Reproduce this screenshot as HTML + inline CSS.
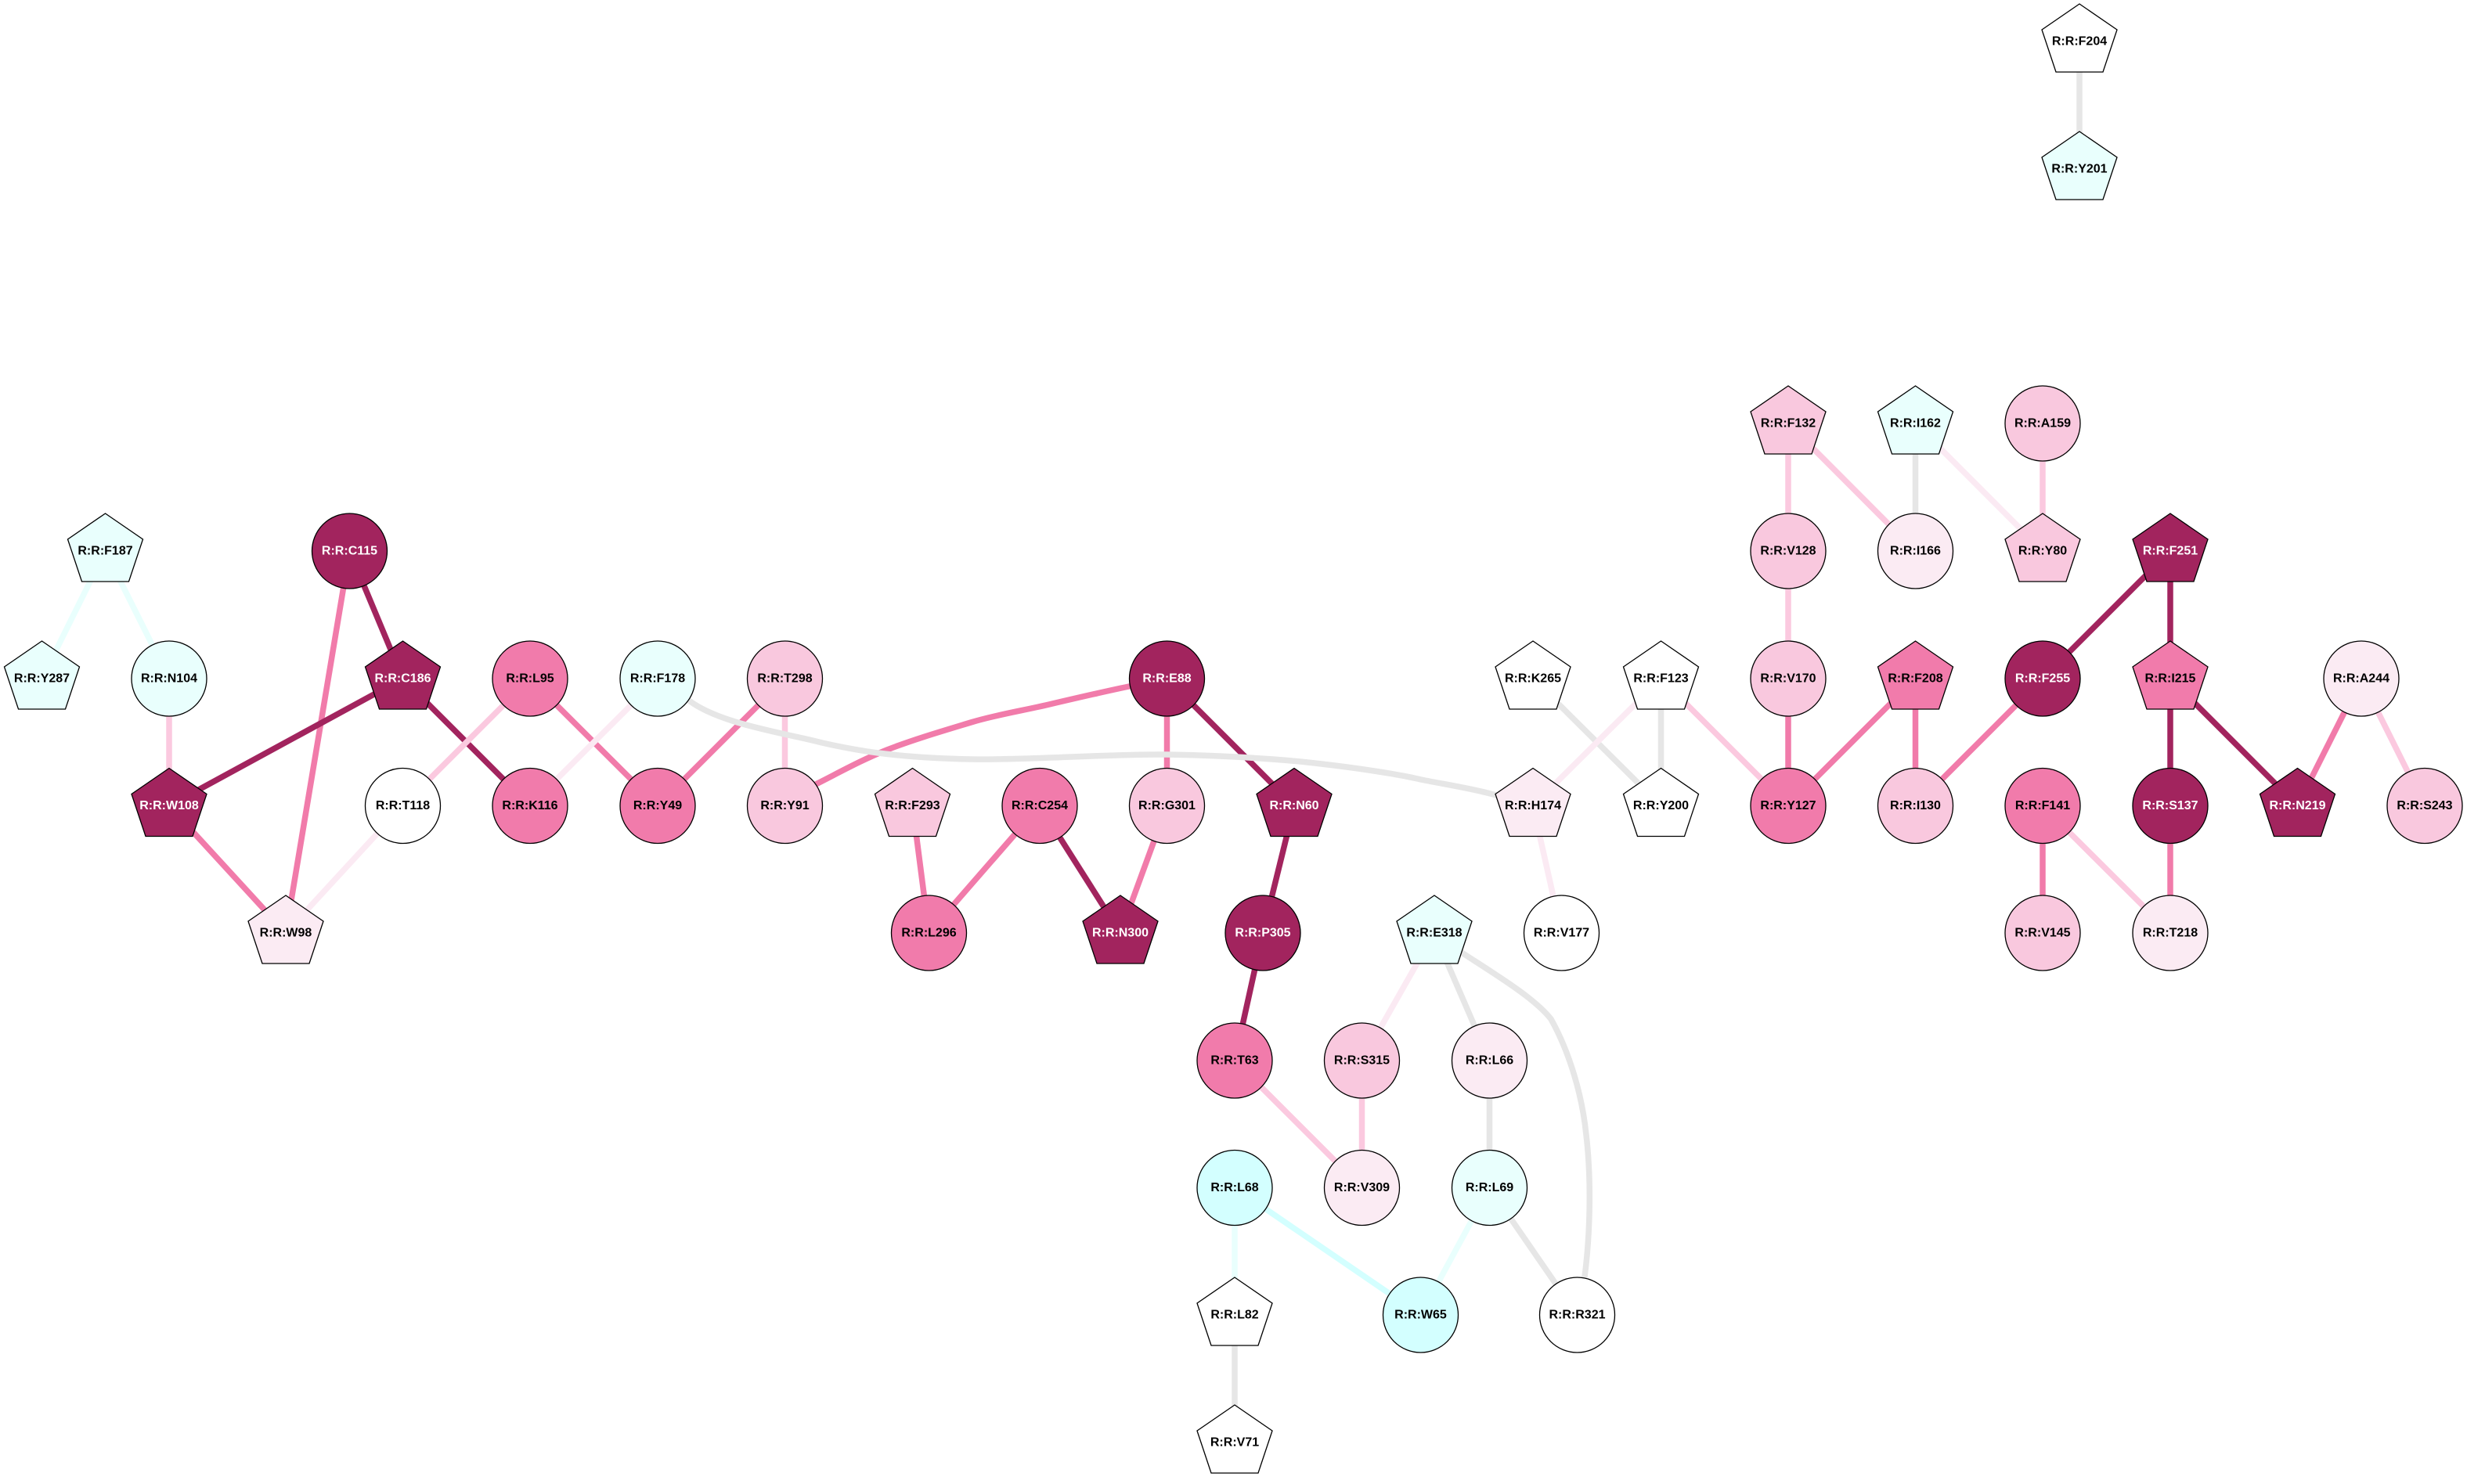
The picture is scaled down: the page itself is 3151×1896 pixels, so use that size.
<!DOCTYPE html>
<html>
<head>
<meta charset="utf-8">
<style>
html,body{margin:0;padding:0;background:#fff;width:3151px;height:1896px;overflow:hidden}
svg{display:block}
.e{fill:none;stroke-width:7.5}
.gy{stroke:#e6e6e6}.cl{stroke:#e9fffd}.cy{stroke:#d3ffff}.vl{stroke:#fbeaf3}.lt{stroke:#fbc9df}.pk{stroke:#f17baa}.dk{stroke:#a2245e}
.n{stroke:#000;stroke-width:1.3}
.W{fill:#fff}.CL{fill:#e9fffd}.CY{fill:#d3ffff}.VL{fill:#fbebf3}.LT{fill:#f9c8de}.PK{fill:#f17bab}.DK{fill:#a2245e}
text{font-family:"Liberation Sans",Arial,sans-serif;font-size:16px;font-weight:bold;text-anchor:middle;fill:#000}
text.w{fill:#fff}
</style>
</head>
<body>
<svg width="3151" height="1896" viewBox="0 0 3151 1896" xmlns="http://www.w3.org/2000/svg">
<rect width="3151" height="1896" fill="#fff"/>
<defs>
<polygon id="p" points="0,-48 48,-15 30,39 -30,39 -48,-15"/>
</defs>
<g class="e">
<line class="e gy" x1="2656" y1="53" x2="2656" y2="216"/>
<line class="e cl" x1="134.5" y1="704" x2="53.5" y2="867"/>
<line class="e cl" x1="134.5" y1="704" x2="216" y2="867"/>
<line class="e lt" x1="216" y1="867" x2="216" y2="1029.5"/>
<line class="e dk" x1="446.5" y1="704" x2="514.5" y2="867"/>
<line class="e pk" x1="446.5" y1="704" x2="365" y2="1192"/>
<line class="e dk" x1="514.5" y1="867" x2="216" y2="1029.5"/>
<line class="e dk" x1="514.5" y1="867" x2="677" y2="1029.5"/>
<line class="e pk" x1="216" y1="1029.5" x2="365" y2="1192"/>
<line class="e vl" x1="514.5" y1="1029.5" x2="365" y2="1192"/>
<line class="e lt" x1="677" y1="867" x2="514.5" y2="1029.5"/>
<line class="e pk" x1="677" y1="867" x2="840" y2="1029.5"/>
<line class="e vl" x1="840" y1="867" x2="677" y2="1029.5"/>
<line class="e pk" x1="1002.5" y1="867" x2="840" y2="1029.5"/>
<line class="e lt" x1="1002.5" y1="867" x2="1002.5" y2="1029.5"/>
<path class="e pk" d="M1490.5,867 L1442,877 C1408,884 1374,892 1340,900 C1306,908 1273,913 1240,923 C1207,933 1166,945 1133,958 C1100,971 1070,988 1040,1003 L1002.5,1029.5"/>
<line class="e pk" x1="1490.5" y1="867" x2="1490.5" y2="1029.5"/>
<line class="e dk" x1="1490.5" y1="867" x2="1653" y2="1029.5"/>
<path class="e gy" d="M840,867 L880,895 C920,925 1000,936 1050,949 C1090,958 1140,968 1241,970 C1320,971 1420,963 1490,964 C1560,965 1640,970 1688,976 C1740,982 1790,990 1815,996 C1860,1005 1890,1008 1958,1029.5"/>
<line class="e pk" x1="1165.5" y1="1029.5" x2="1186.5" y2="1192"/>
<line class="e pk" x1="1328" y1="1029.5" x2="1186.5" y2="1192"/>
<line class="e dk" x1="1328" y1="1029.5" x2="1431" y2="1192"/>
<line class="e pk" x1="1490.5" y1="1029.5" x2="1431" y2="1192"/>
<line class="e dk" x1="1653" y1="1029.5" x2="1613" y2="1192"/>
<line class="e dk" x1="1613" y1="1192" x2="1577" y2="1355"/>
<line class="e lt" x1="1577" y1="1355" x2="1739.5" y2="1517.5"/>
<line class="e lt" x1="1739.5" y1="1355" x2="1739.5" y2="1517.5"/>
<line class="e vl" x1="1832" y1="1192" x2="1739.5" y2="1355"/>
<line class="e gy" x1="1832" y1="1192" x2="1902.5" y2="1355"/>
<path class="e gy" d="M1832,1192 L1867,1217 C1910,1245 1960,1275 1981,1302 C2005,1345 2021,1400 2026,1450 C2032,1500 2032,1570 2024,1631 L2014.5,1680"/>
<line class="e gy" x1="1902.5" y1="1355" x2="1902.5" y2="1517.5"/>
<line class="e cl" x1="1902.5" y1="1517.5" x2="1814.5" y2="1680"/>
<line class="e gy" x1="1902.5" y1="1517.5" x2="2014.5" y2="1680"/>
<line class="e cy" x1="1577" y1="1517.5" x2="1814.5" y2="1680"/>
<line class="e cl" x1="1577" y1="1517.5" x2="1577" y2="1680"/>
<line class="e gy" x1="1577" y1="1680" x2="1577" y2="1843"/>
<line class="e gy" x1="1958" y1="867" x2="2121.5" y2="1029.5"/>
<line class="e vl" x1="2121.5" y1="867" x2="1958" y2="1029.5"/>
<line class="e gy" x1="2121.5" y1="867" x2="2121.5" y2="1029.5"/>
<line class="e lt" x1="2121.5" y1="867" x2="2284" y2="1029.5"/>
<line class="e vl" x1="1958" y1="1029.5" x2="1994.5" y2="1192"/>
<line class="e lt" x1="2284" y1="541" x2="2284" y2="704"/>
<line class="e lt" x1="2284" y1="541" x2="2446.5" y2="704"/>
<line class="e gy" x1="2446.5" y1="541" x2="2446.5" y2="704"/>
<line class="e vl" x1="2446.5" y1="541" x2="2609" y2="704"/>
<line class="e lt" x1="2609" y1="541" x2="2609" y2="704"/>
<line class="e lt" x1="2284" y1="704" x2="2284" y2="867"/>
<line class="e pk" x1="2284" y1="867" x2="2284" y2="1029.5"/>
<line class="e pk" x1="2446.5" y1="867" x2="2284" y2="1029.5"/>
<line class="e pk" x1="2446.5" y1="867" x2="2446.5" y2="1029.5"/>
<line class="e pk" x1="2609" y1="867" x2="2446.5" y2="1029.5"/>
<line class="e dk" x1="2772" y1="704" x2="2609" y2="867"/>
<line class="e dk" x1="2772" y1="704" x2="2772" y2="867"/>
<line class="e dk" x1="2772" y1="867" x2="2772" y2="1029.5"/>
<line class="e dk" x1="2772" y1="867" x2="2934.5" y2="1029.5"/>
<line class="e pk" x1="2772" y1="1029.5" x2="2772" y2="1192"/>
<line class="e pk" x1="2609" y1="1029.5" x2="2609" y2="1192"/>
<line class="e lt" x1="2609" y1="1029.5" x2="2772" y2="1192"/>
<line class="e pk" x1="3016" y1="867" x2="2934.5" y2="1029.5"/>
<line class="e lt" x1="3016" y1="867" x2="3097" y2="1029.5"/>
</g>

<!-- pentagons -->
<use href="#p" class="n W" x="2656" y="53"/><text x="2656" y="57.5">R:R:F204</text>
<use href="#p" class="n CL" x="2656" y="216"/><text x="2656" y="220.5">R:R:Y201</text>
<use href="#p" class="n CL" x="134.5" y="704"/><text x="134.5" y="708.5">R:R:F187</text>
<use href="#p" class="n CL" x="53.5" y="867"/><text x="53.5" y="871.5">R:R:Y287</text>
<use href="#p" class="n DK" x="216" y="1029.5"/><text class="w" x="216" y="1034">R:R:W108</text>
<use href="#p" class="n DK" x="514.5" y="867"/><text class="w" x="514.5" y="871.5">R:R:C186</text>
<use href="#p" class="n VL" x="365" y="1192"/><text x="365" y="1196.5">R:R:W98</text>
<use href="#p" class="n LT" x="1165.5" y="1029.5"/><text x="1165.5" y="1034">R:R:F293</text>
<use href="#p" class="n DK" x="1653" y="1029.5"/><text class="w" x="1653" y="1034">R:R:N60</text>
<use href="#p" class="n DK" x="1431" y="1192"/><text class="w" x="1431" y="1196.5">R:R:N300</text>
<use href="#p" class="n CL" x="1832" y="1192"/><text x="1832" y="1196.5">R:R:E318</text>
<use href="#p" class="n W" x="1577" y="1680"/><text x="1577" y="1684.5">R:R:L82</text>
<use href="#p" class="n W" x="1577" y="1843"/><text x="1577" y="1847.5">R:R:V71</text>
<use href="#p" class="n W" x="1958" y="867"/><text x="1958" y="871.5">R:R:K265</text>
<use href="#p" class="n VL" x="1958" y="1029.5"/><text x="1958" y="1034">R:R:H174</text>
<use href="#p" class="n W" x="2121.5" y="867"/><text x="2121.5" y="871.5">R:R:F123</text>
<use href="#p" class="n W" x="2121.5" y="1029.5"/><text x="2121.5" y="1034">R:R:Y200</text>
<use href="#p" class="n LT" x="2284" y="541"/><text x="2284" y="545.5">R:R:F132</text>
<use href="#p" class="n CL" x="2446.5" y="541"/><text x="2446.5" y="545.5">R:R:I162</text>
<use href="#p" class="n LT" x="2609" y="704"/><text x="2609" y="708.5">R:R:Y80</text>
<use href="#p" class="n DK" x="2772" y="704"/><text class="w" x="2772" y="708.5">R:R:F251</text>
<use href="#p" class="n PK" x="2446.5" y="867"/><text x="2446.5" y="871.5">R:R:F208</text>
<use href="#p" class="n PK" x="2772" y="867"/><text x="2772" y="871.5">R:R:I215</text>
<use href="#p" class="n DK" x="2934.5" y="1029.5"/><text class="w" x="2934.5" y="1034">R:R:N219</text>

<!-- circles -->
<circle class="n CL" cx="216" cy="867" r="48"/><text x="216" y="871.5">R:R:N104</text>
<circle class="n DK" cx="446.5" cy="704" r="48"/><text class="w" x="446.5" y="708.5">R:R:C115</text>
<circle class="n W" cx="514.5" cy="1029.5" r="48"/><text x="514.5" y="1034">R:R:T118</text>
<circle class="n PK" cx="677" cy="867" r="48"/><text x="677" y="871.5">R:R:L95</text>
<circle class="n PK" cx="677" cy="1029.5" r="48"/><text x="677" y="1034">R:R:K116</text>
<circle class="n CL" cx="840" cy="867" r="48"/><text x="840" y="871.5">R:R:F178</text>
<circle class="n PK" cx="840" cy="1029.5" r="48"/><text x="840" y="1034">R:R:Y49</text>
<circle class="n LT" cx="1002.5" cy="867" r="48"/><text x="1002.5" y="871.5">R:R:T298</text>
<circle class="n LT" cx="1002.5" cy="1029.5" r="48"/><text x="1002.5" y="1034">R:R:Y91</text>
<circle class="n DK" cx="1490.5" cy="867" r="48"/><text class="w" x="1490.5" y="871.5">R:R:E88</text>
<circle class="n PK" cx="1328" cy="1029.5" r="48"/><text x="1328" y="1034">R:R:C254</text>
<circle class="n LT" cx="1490.5" cy="1029.5" r="48"/><text x="1490.5" y="1034">R:R:G301</text>
<circle class="n PK" cx="1186.5" cy="1192" r="48"/><text x="1186.5" y="1196.5">R:R:L296</text>
<circle class="n DK" cx="1613" cy="1192" r="48"/><text class="w" x="1613" y="1196.5">R:R:P305</text>
<circle class="n W" cx="1994.5" cy="1192" r="48"/><text x="1994.5" y="1196.5">R:R:V177</text>
<circle class="n PK" cx="1577" cy="1355" r="48"/><text x="1577" y="1359.5">R:R:T63</text>
<circle class="n LT" cx="1739.5" cy="1355" r="48"/><text x="1739.5" y="1359.5">R:R:S315</text>
<circle class="n VL" cx="1902.5" cy="1355" r="48"/><text x="1902.5" y="1359.5">R:R:L66</text>
<circle class="n CY" cx="1577" cy="1517.5" r="48"/><text x="1577" y="1522">R:R:L68</text>
<circle class="n VL" cx="1739.5" cy="1517.5" r="48"/><text x="1739.5" y="1522">R:R:V309</text>
<circle class="n CL" cx="1902.5" cy="1517.5" r="48"/><text x="1902.5" y="1522">R:R:L69</text>
<circle class="n CY" cx="1814.5" cy="1680" r="48"/><text x="1814.5" y="1684.5">R:R:W65</text>
<circle class="n W" cx="2014.5" cy="1680" r="48"/><text x="2014.5" y="1684.5">R:R:R321</text>
<circle class="n LT" cx="2609" cy="541" r="48"/><text x="2609" y="545.5">R:R:A159</text>
<circle class="n LT" cx="2284" cy="704" r="48"/><text x="2284" y="708.5">R:R:V128</text>
<circle class="n VL" cx="2446.5" cy="704" r="48"/><text x="2446.5" y="708.5">R:R:I166</text>
<circle class="n LT" cx="2284" cy="867" r="48"/><text x="2284" y="871.5">R:R:V170</text>
<circle class="n DK" cx="2609" cy="867" r="48"/><text class="w" x="2609" y="871.5">R:R:F255</text>
<circle class="n VL" cx="3016" cy="867" r="48"/><text x="3016" y="871.5">R:R:A244</text>
<circle class="n PK" cx="2284" cy="1029.5" r="48"/><text x="2284" y="1034">R:R:Y127</text>
<circle class="n LT" cx="2446.5" cy="1029.5" r="48"/><text x="2446.5" y="1034">R:R:I130</text>
<circle class="n PK" cx="2609" cy="1029.5" r="48"/><text x="2609" y="1034">R:R:F141</text>
<circle class="n DK" cx="2772" cy="1029.5" r="48"/><text class="w" x="2772" y="1034">R:R:S137</text>
<circle class="n LT" cx="3097" cy="1029.5" r="48"/><text x="3097" y="1034">R:R:S243</text>
<circle class="n LT" cx="2609" cy="1192" r="48"/><text x="2609" y="1196.5">R:R:V145</text>
<circle class="n VL" cx="2772" cy="1192" r="48"/><text x="2772" y="1196.5">R:R:T218</text>
</svg>
</body>
</html>
